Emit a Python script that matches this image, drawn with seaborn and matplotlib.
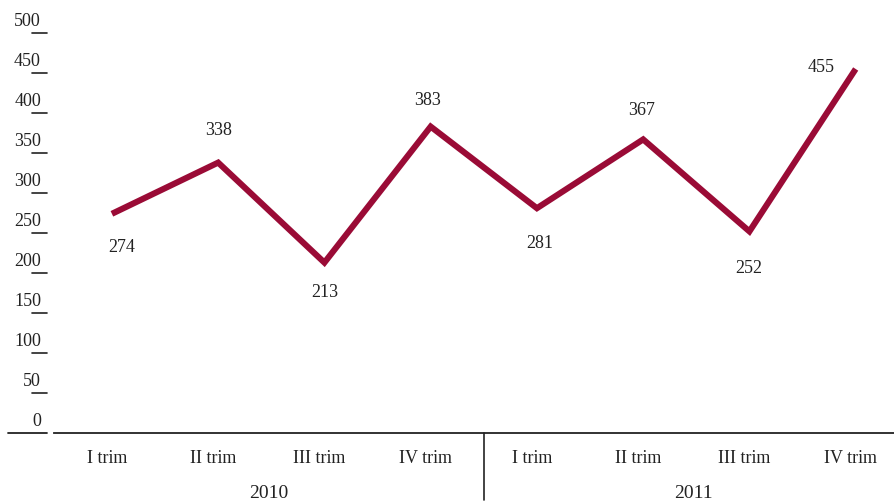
import matplotlib
matplotlib.use("Agg")
import matplotlib.pyplot as plt
import matplotlib.transforms as mtransforms
import seaborn as sns
import pandas as pd

# ---- data ----
quarters = ["I trim", "II trim", "III trim", "IV trim",
            "I trim", "II trim", "III trim", "IV trim"]
years = ["2010", "2011"]
values = [274, 338, 213, 383, 281, 367, 252, 455]
y_ticks = [0, 50, 100, 150, 200, 250, 300, 350, 400, 450, 500]

# label offsets in pixels (presentation only)
label_offsets = [(10, -34), (0, 32), (0, -30), (-3, 26),
                 (3, -35), (-2, 29), (-1, -37), (-35, 2)]

sns.set_theme(style="white")
plt.rcParams["font.family"] = ["Liberation Serif", "DejaVu Serif"]

df = pd.DataFrame({"pos": list(range(len(values))), "value": values})

W, H = 895, 504
fig = plt.figure(figsize=(W / 100, H / 100), dpi=100)
left_px, right_px, bottom_px, top_px = 54, 895, 433, 33
ax = fig.add_axes([left_px / W, 1 - bottom_px / H,
                   (right_px - left_px) / W, (bottom_px - top_px) / H])

color = "#9A0B36"
sns.lineplot(data=df, x="pos", y="value", ax=ax, color=color,
             linewidth=4.4, solid_capstyle="butt", solid_joinstyle="miter",
             clip_on=False)

ax.set_xlim(-0.545, 7.37)
ax.set_ylim(0, 500)

for sp in ["top", "right", "left"]:
    ax.spines[sp].set_visible(False)
ax.spines["bottom"].set_color("#222222")
ax.spines["bottom"].set_linewidth(1.3)

ax.set_xticks(range(len(quarters)))
ax.set_xticklabels(quarters, fontsize=13, color="#222222")
ax.tick_params(axis="x", length=0, pad=12)
shift = mtransforms.ScaledTranslation(-5 / 100, 0, fig.dpi_scale_trans)
for lbl in ax.get_xticklabels():
    lbl.set_transform(lbl.get_transform() + shift)
ax.set_yticks([])
ax.set_xlabel("")
ax.set_ylabel("")

# y tick marks and labels drawn left of the axes
trans = mtransforms.blended_transform_factory(fig.transFigure, ax.transData)
for t in y_ticks:
    if t > 0:
        ax.plot([32 / W, 47 / W], [t, t], transform=trans, color="#222222",
                lw=1.2, clip_on=False)
    ax.annotate(str(t), xy=(41 / W, t), xycoords=trans,
                xytext=(0, 3), textcoords="offset pixels",
                ha="right", va="bottom", fontsize=13, color="#222222")
# left baseline segment
ax.plot([8 / W, 47 / W], [0, 0], transform=trans, color="#222222",
        lw=1.3, clip_on=False)

# separator between years
trans2 = mtransforms.blended_transform_factory(ax.transData, fig.transFigure)
ax.plot([3.5, 3.5], [1 - bottom_px / H, 1 - 500 / H], transform=trans2,
        color="#222222", lw=1.2, clip_on=False)

# year labels
for i, yr in enumerate(years):
    ax.annotate(yr, xy=(1.5 + 4 * i, 1 - 493 / H), xycoords=trans2,
                xytext=(-3, 0), textcoords="offset pixels", ha="center",
                va="center", fontsize=14, color="#222222")

# data labels
for i, v in enumerate(values):
    dx, dy = label_offsets[i]
    ax.annotate(str(v), xy=(i, v), xytext=(dx, dy), textcoords="offset pixels",
                ha="center", va="center", fontsize=13, color="#222222")

fig.savefig("out.png", dpi=100)
